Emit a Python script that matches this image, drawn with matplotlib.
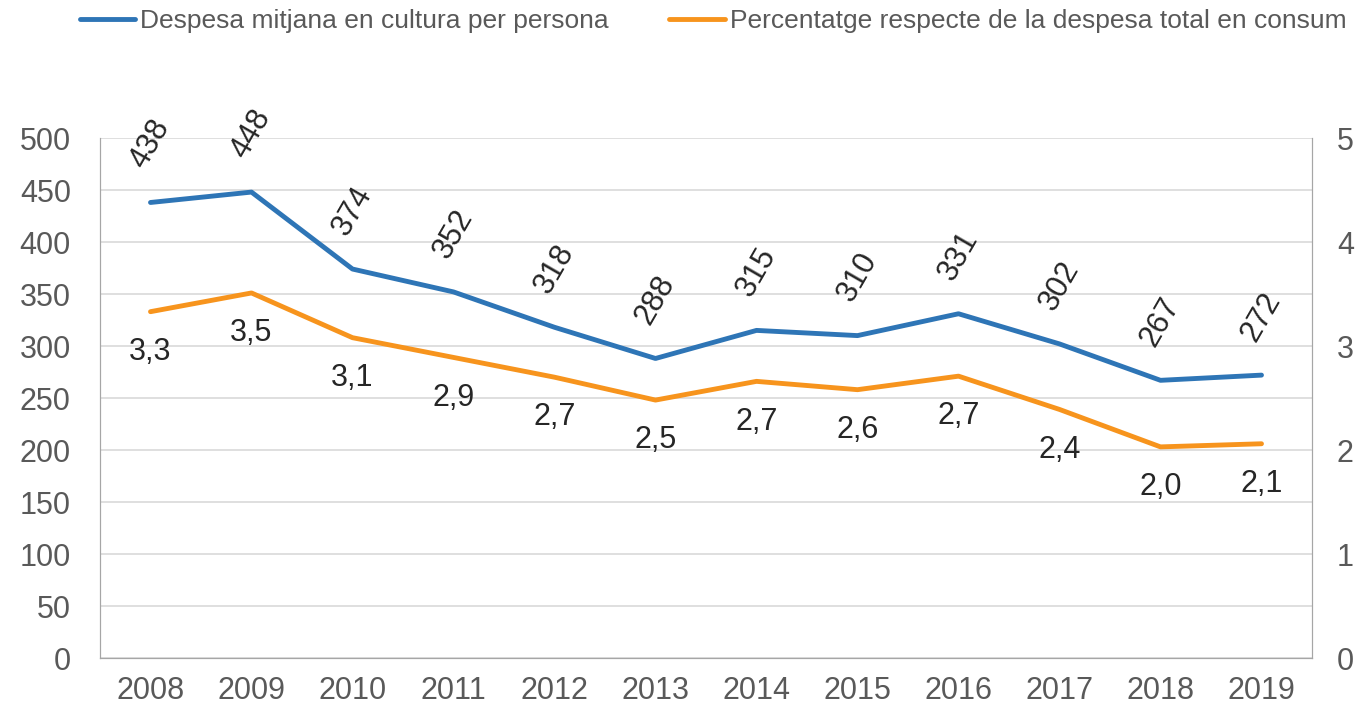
import matplotlib.pyplot as plt

years = ['2008', '2009', '2010', '2011', '2012', '2013', '2014', '2015', '2016', '2017', '2018', '2019']
despesa = [438, 448, 374, 352, 318, 288, 315, 310, 331, 302, 267, 272]
percentatge = [3.33, 3.51, 3.08, 2.89, 2.70, 2.48, 2.66, 2.58, 2.71, 2.39, 2.03, 2.06]

blue = '#2E75B6'
orange = '#F7941D'
grey_text = '#595959'

plt.rcParams['font.family'] = ['Liberation Sans', 'DejaVu Sans']

fig = plt.figure(figsize=(13.56, 7.09), dpi=100)
ax = fig.add_axes([100 / 1356, 1 - 658 / 709, 1212 / 1356, 520 / 709])
ax2 = ax.twinx()

x = list(range(len(years)))
l1, = ax.plot(x, despesa, color=blue, linewidth=3.5, solid_capstyle='round')
l2, = ax2.plot(x, percentatge, color=orange, linewidth=3.5, solid_capstyle='round')

ax.set_xlim(-0.5, len(years) - 0.5)
ax.set_ylim(0, 500)
ax2.set_ylim(0, 5)
ax.set_yticks(range(0, 501, 50))
ax2.set_yticks(range(0, 6))
ax.set_xticks(x)
ax.set_xticklabels(years)

ax.grid(axis='y', color='#D9D9D9', linewidth=1.2)
ax.set_axisbelow(True)
for a in (ax, ax2):
    a.spines['top'].set_visible(False)
    a.spines['left'].set_color('#A6A6A6')
    a.spines['right'].set_color('#A6A6A6')
    a.spines['bottom'].set_color('#A6A6A6')
    a.tick_params(length=0, labelsize=22, labelcolor=grey_text)
ax.tick_params(axis='y', pad=21)
ax.tick_params(axis='x', pad=13)
ax2.tick_params(axis='y', pad=18)

for xi, v in zip(x, despesa):
    ax.annotate(str(v), (xi, v), xytext=(0, 42), textcoords='offset points',
                ha='center', va='center', rotation=60, fontsize=22, color='#262626')
for xi, v in zip(x, percentatge):
    ax2.annotate(f'{v:.1f}'.replace('.', ','), (xi, v), xytext=(0, -29),
                 textcoords='offset points', ha='center', va='center',
                 fontsize=22, color='#262626')

fig.legend([l1, l2], ['Despesa mitjana en cultura per persona',
                      'Percentatge respecte de la despesa total en consum'],
           loc='center', bbox_to_anchor=(713 / 1356, 1 - 21 / 709), ncol=2, frameon=False,
           fontsize=19, handlelength=2.1, handletextpad=0.19, columnspacing=2.3,
           labelcolor=grey_text, borderpad=0)

fig.savefig('out.png', dpi=100)
